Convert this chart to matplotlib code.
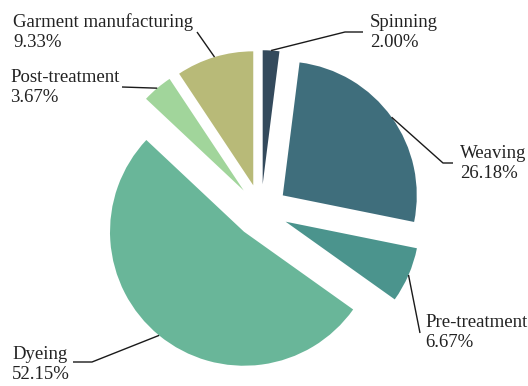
import math
import matplotlib.pyplot as plt

stages = ["Spinning", "Weaving", "Pre-treatment", "Dyeing", "Post-treatment", "Garment manufacturing"]
shares = [2.00, 26.18, 6.67, 52.15, 3.67, 9.33]
colors = ["#344a5c", "#3f6e7c", "#4b948d", "#69b699", "#a1d59b", "#b8ba78"]

plt.rcParams['font.family'] = ['Liberation Serif', 'DejaVu Serif']

W, H = 528, 386
R = 134            # pie radius, px
CX, CY = 261, 211  # pie centre, px from top-left


def px(x, y):
    # pixel position (top-left origin) -> data units
    return (x - CX) / R, (CY - y) / R


fig = plt.figure(figsize=(W / 100, H / 100), dpi=100)
ax = fig.add_axes([0, 0, 1, 1])
wedges, _ = ax.pie(shares, colors=colors, startangle=90, counterclock=False,
                   explode=[0.2] * len(shares), radius=1)
ax.set_xlim(-CX / R, (W - CX) / R)
ax.set_ylim(-(H - CY) / R, CY / R)
ax.axis('off')

# leader line bends (px) and label anchors (px, top-left of text)
leaders = [
    [(345, 32), (363, 32)],
    [(443, 163), (453, 163)],
    [(420, 333)],
    [(92, 362), (73, 362)],
    [(122, 87)],
    [(197, 32)],
]
label_pos = [(370, 14), (460, 145), (425, 314), (12, 346), (10, 69), (13, 13)]

for w, name, val, pts, (tx, ty) in zip(wedges, stages, shares, leaders, label_pos):
    t = math.radians((w.theta1 + w.theta2) / 2)
    x0 = w.center[0] + w.r * math.cos(t)
    y0 = w.center[1] + w.r * math.sin(t)
    xs, ys = [x0], [y0]
    for p in pts:
        x, y = px(*p)
        xs.append(x)
        ys.append(y)
    ax.plot(xs, ys, color='#1a1a1a', lw=1.0, solid_capstyle='butt')
    lx, ly = px(tx, ty)
    ax.text(lx, ly, f"{name}\n{val:.2f}%", ha='left', va='top',
            fontsize=13.5, color='#222222', linespacing=1.25)

fig.savefig('out.png', dpi=100)
